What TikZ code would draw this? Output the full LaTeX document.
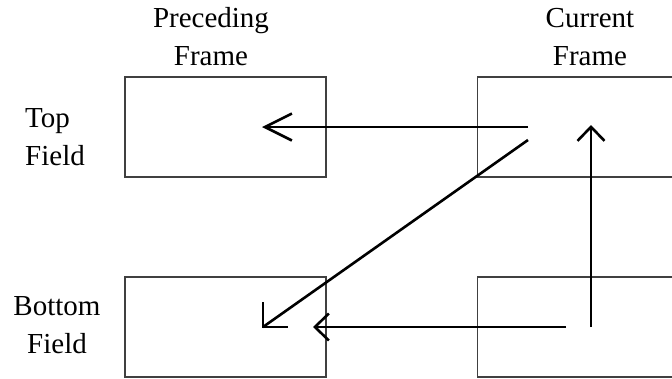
\documentclass[tikz,border=0pt]{standalone}
\usepackage{fontspec}
\setmainfont{Liberation Serif}
\usetikzlibrary{arrows.meta,calc}
\begin{document}
\begin{tikzpicture}[x=1pt,y=-1pt,
  framebox/.style={draw=black!75,line width=1.1pt,rectangle,minimum width=201pt,minimum height=100pt,inner sep=0pt},
  lbl/.style={font=\fontsize{29}{38}\selectfont,inner sep=0pt},
  arrowline/.style={draw=black,line width=2.6pt},
  bigbarb/.style={-{Straight Barb[length=27pt,width=27pt,line width=2.6pt]}},
  smallbarb/.style={-{Straight Barb[length=14pt,width=27pt,line width=2.6pt]}}
]
\useasboundingbox (0,0) rectangle (672,378);
\clip (0,0) rectangle (672,378);
\fill[white] (0,0) rectangle (672,378);
% boxes
\node[framebox] (pt) at (225.5,127) {};
\node[framebox] (ct) at (578,127) {};
\node[framebox] (pb) at (225.5,327) {};
\node[framebox] (cb) at (578,327) {};
% labels
\node[lbl,align=center,anchor=base] (lp) at (211,65) {Preceding\\Frame};
\node[lbl,align=center,anchor=base] (lc) at (590,65) {Current\\Frame};
\node[lbl,align=left,anchor=base west] (lt) at (25,165) {Top\\Field};
\node[lbl,align=center,anchor=base] (lb) at (57,353) {Bottom\\Field};
% arrow end points
\coordinate (a1s) at (528,127);
\coordinate (a1e) at (262,127);
\coordinate (a2s) at (528,140);
\coordinate (a2e) at (263,327);
\coordinate (a3s) at (566,327);
\coordinate (a3e) at (313,327);
\coordinate (a4s) at (591,327);
\coordinate (a4e) at (591,125);
% arrows
\draw[arrowline,bigbarb] (a1s) -- (a1e);
\draw[arrowline] (a2s) -- (a2e);
\draw[arrowline] ($(a2e)+(0,-25)$) -- (a2e) -- ($(a2e)+(25,0)$);
\draw[arrowline,smallbarb] (a3s) -- (a3e);
\draw[arrowline,smallbarb] (a4s) -- (a4e);
\end{tikzpicture}
\end{document}
